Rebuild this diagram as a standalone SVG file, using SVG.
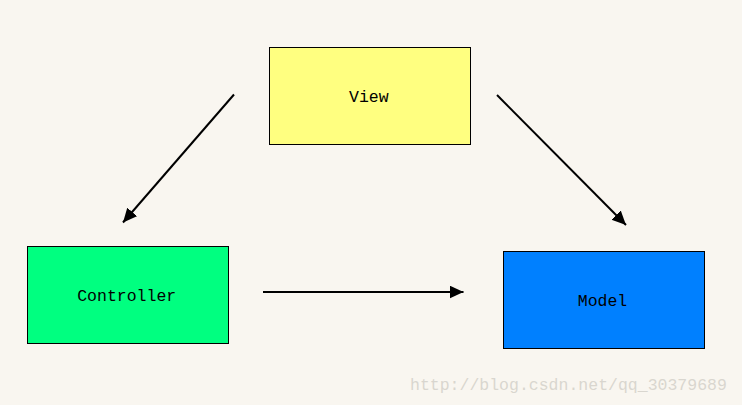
<svg xmlns="http://www.w3.org/2000/svg" width="742" height="405" viewBox="0 0 742 405">
<style>
.box{stroke:#000;stroke-width:1}
.lbl{font-family:"Liberation Mono","DejaVu Sans Mono",monospace;font-size:16.5px;fill:#000;text-anchor:middle}
.conn{stroke:#000;stroke-width:2;fill:none}
.wm{font-family:"Liberation Mono","DejaVu Sans Mono",monospace;font-size:16.5px;fill:#d9d6cf}
</style>
<defs>
<marker id="ah" markerUnits="userSpaceOnUse" markerWidth="16" markerHeight="14" refX="14" refY="6.5" orient="auto" viewBox="0 0 16 14">
<path d="M0,0 L14,6.5 L0,13 Z" fill="#000"/>
</marker>
</defs>
<rect width="742" height="405" fill="#f9f6f0"/>
<g id="view">
<rect class="box" x="269.5" y="47.5" width="201" height="97" fill="#ffff80"/>
<text class="lbl" x="368.8" y="102">View</text>
</g>
<g id="controller">
<rect class="box" x="27.5" y="246.5" width="201" height="97" fill="#00ff80"/>
<text class="lbl" x="126.7" y="301">Controller</text>
</g>
<g id="model">
<rect class="box" x="503.5" y="251.5" width="201" height="97" fill="#0080ff"/>
<text class="lbl" x="602.5" y="306">Model</text>
</g>
<g id="connectors">
<line class="conn" x1="234" y1="94.5" x2="123" y2="222.5" marker-end="url(#ah)"/>
<line class="conn" x1="497" y1="95" x2="626" y2="225" marker-end="url(#ah)"/>
<line class="conn" x1="263" y1="292" x2="463.5" y2="292" marker-end="url(#ah)"/>
</g>
<text class="wm" x="410" y="390">http://blog.csdn.net/qq_30379689</text>
</svg>
